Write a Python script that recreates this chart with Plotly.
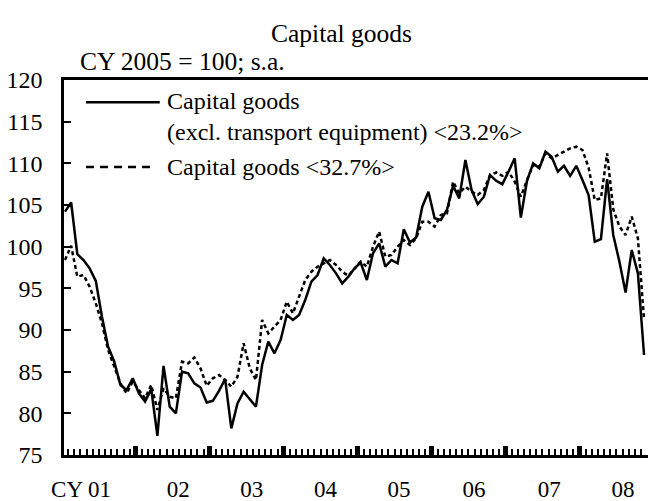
import plotly.graph_objects as go

# Monthly, Jan 2001 - Nov 2008 (index 0..94), CY2005 = 100, s.a.
excl_transport = [
    104.2, 105.3, 99.1, 98.4, 97.4, 95.9, 91.6, 88.0, 86.2, 83.4, 82.8, 84.2,
    82.4, 81.4, 82.9, 77.3, 85.7, 80.8, 80.0, 85.0, 84.8, 83.6, 83.1, 81.3,
    81.5, 82.7, 84.1, 78.2, 81.2, 82.6, 81.7, 80.8, 85.8, 88.6, 87.2, 88.8,
    91.8, 91.2, 91.8, 93.6, 95.8, 96.6, 98.6, 97.8, 96.8, 95.6, 96.4, 97.4,
    98.1, 96.0, 99.2, 100.4, 97.6, 98.4, 98.0, 102.1, 100.5, 101.1, 104.8, 106.6,
    103.4, 103.2, 104.4, 107.3, 105.8, 110.4, 106.8, 105.1, 106.0, 108.6, 107.9, 107.5,
    109.0, 110.6, 103.5, 107.9, 110.0, 109.4, 111.4, 110.8, 109.0, 109.7, 108.5, 109.7,
    108.0, 106.2, 100.6, 100.9, 108.1, 101.4, 98.2, 94.5, 99.6, 96.8, 87.0,
]
capital_goods = [
    98.4, 100.1, 96.4, 96.6, 95.2, 93.2, 90.8, 87.6, 85.6, 83.6, 82.4, 83.8,
    82.8, 81.8, 83.4, 80.4, 83.0, 82.0, 81.8, 86.2, 86.0, 86.7, 85.4, 83.3,
    84.2, 84.6, 84.0, 83.2, 84.4, 88.4, 85.4, 84.0, 91.2, 89.6, 90.4, 91.2,
    93.4, 92.0, 94.0, 96.0, 97.0, 97.6, 98.0, 98.4, 97.8, 97.0, 96.5, 97.4,
    98.2, 97.6, 100.0, 101.8, 98.8, 99.0, 100.0, 100.8, 100.2, 101.0, 103.0, 103.0,
    102.4, 103.8, 104.0, 107.8, 106.4, 107.2, 106.6, 106.2, 106.8, 108.6, 108.9, 108.5,
    109.0, 107.8, 106.0, 108.0, 109.8, 109.6, 111.2, 110.6, 111.0, 111.5, 111.8, 112.0,
    111.6, 109.5, 105.6, 105.8, 111.2, 104.5, 102.4, 101.4, 103.6, 101.0, 91.2,
]
months = list(range(len(excl_transport)))

year_labels = ["CY 01", "02", "03", "04", "05", "06", "07", "08"]
year_label_pos = [2.6, 18.4, 30.3, 42.3, 54.2, 66.4, 78.6, 90.6]
year_boundaries = [11.5 + 12 * k for k in range(7)]

FONT = "Liberation Serif"
XR = [-0.16, 94.64]

fig = go.Figure()
fig.add_trace(go.Scatter(x=months, y=capital_goods, mode="lines",
                         line=dict(color="black", width=2.5, dash="4px,3px"),
                         showlegend=False))
fig.add_trace(go.Scatter(x=months, y=excl_transport, mode="lines",
                         line=dict(color="black", width=2.5),
                         showlegend=False))
# invisible trace for the label axis
fig.add_trace(go.Scatter(x=[XR[0]], y=[75], xaxis="x2", mode="markers",
                         marker=dict(opacity=0), showlegend=False, hoverinfo="skip"))

fig.update_layout(
    width=648, height=501,
    margin=dict(l=64, r=0, t=80, b=46),
    paper_bgcolor="white", plot_bgcolor="white",
    font=dict(family=FONT, color="black", size=24),
    xaxis=dict(range=XR, showgrid=False, zeroline=False,
               showline=True, linecolor="black", linewidth=2.5, mirror=True,
               tickmode="array", tickvals=year_boundaries, ticks="inside",
               ticklen=9, tickwidth=5, tickcolor="black", showticklabels=False,
               minor=dict(tickmode="linear", tick0=0.5, dtick=1, ticks="inside",
                          ticklen=6, tickwidth=2, tickcolor="black")),
    xaxis2=dict(range=XR, overlaying="x", anchor="y", side="bottom",
                showgrid=False, zeroline=False, showline=False, ticks="",
                tickmode="array", tickvals=year_label_pos, ticktext=year_labels,
                tickfont=dict(family=FONT, size=23), ticklabelstandoff=18),
    yaxis=dict(range=[75, 120], showgrid=False, zeroline=False,
               showline=True, linecolor="black", linewidth=2.5,
               tickmode="array", tickvals=list(range(75, 121, 5)),
               ticks="inside", ticklen=7, tickwidth=2, tickcolor="black",
               tickfont=dict(family=FONT, size=24), ticklabelstandoff=14),
)

# title and unit
fig.add_annotation(text="Capital goods", xref="paper", yref="paper",
                   x=0.476, y=1.125, xanchor="center", yanchor="middle",
                   showarrow=False, font=dict(family=FONT, size=25.5))
fig.add_annotation(text="CY 2005 = 100; s.a.", xref="paper", yref="paper",
                   x=0.024, y=1.048, xanchor="left", yanchor="middle",
                   showarrow=False, font=dict(family=FONT, size=25.5))

# custom legend
fig.add_shape(type="line", xref="paper", yref="paper", x0=0.0377, x1=0.164,
              y0=0.941, y1=0.941, line=dict(color="black", width=2.5))
fig.add_shape(type="line", xref="paper", yref="paper", x0=0.0377, x1=0.151,
              y0=0.768, y1=0.768, line=dict(color="black", width=2.5, dash="8px,6px"))
for txt, yy in [("Capital goods", 0.945),
                ("(excl. transport equipment) &lt;23.2%&gt;", 0.861),
                ("Capital goods &lt;32.7%&gt;", 0.768)]:
    fig.add_annotation(text=txt, xref="paper", yref="paper", x=0.173, y=yy,
                       xanchor="left", yanchor="middle", showarrow=False,
                       font=dict(family=FONT, size=24))

fig.write_html("out.html", config={"displayModeBar": False},
               post_script="document.body.style.margin='0';document.body.style.overflow='hidden';")
